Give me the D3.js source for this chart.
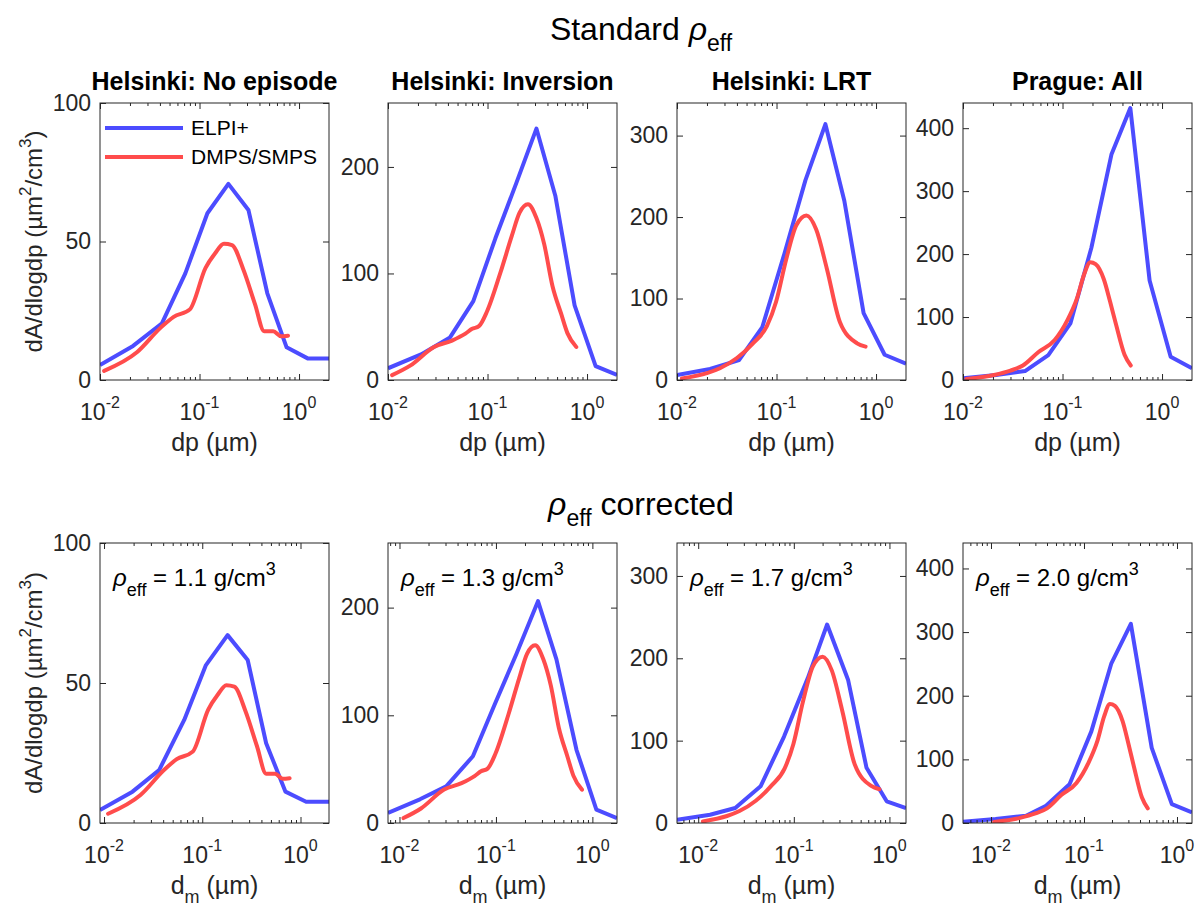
<!DOCTYPE html>
<html>
<head>
<meta charset="utf-8">
<script src="https://cdn.jsdelivr.net/npm/d3@7"></script>
<style>
  body { margin: 0; background: #fff; }
  svg { display: block; font-family: "Liberation Sans", Arial, sans-serif; }
</style>
</head>
<body>
<script>
    var w = 1200;
    var h = 911;

    // ELPI+ stage diameters, standard density (um)
    var elpiDp = [0.01, 0.0215, 0.042, 0.072, 0.12, 0.195, 0.31, 0.48, 0.75, 1.22, 2.0];
    var elpiNoEp = [5.4, 12.3, 20.5, 38.5, 60.2, 70.8, 61.4, 31.3, 11.8, 7.8, 7.8];
    var elpiInv  = [11, 24, 40, 74, 133, 185, 236, 173, 70, 13, 4.7];
    var elpiLrt  = [6.1, 13.5, 24.5, 65, 155, 245, 314, 220, 82, 31, 20];
    var elpiPrg  = [2.6, 8, 14.2, 39.5, 90, 210, 358, 432, 158, 37, 18.5];

    // ELPI+ after rho_eff correction (mobility diameter)
    var dmNoEp = [0.0091, 0.0195, 0.0364, 0.0655, 0.109, 0.181, 0.29, 0.447, 0.703, 1.14, 1.95];
    var elpiNoEpCorr = [4.6, 11.2, 18.9, 36.8, 56.4, 67.1, 58.2, 28.5, 11.2, 7.6, 7.6];
    var dmInv = [0.0076, 0.0163, 0.0305, 0.0577, 0.097, 0.163, 0.273, 0.424, 0.684, 1.1, 1.8];
    var elpiInvCorr = [9.3, 22, 34, 62, 110, 157, 206, 152, 68, 12.4, 4.6];
    var dmLrt = [0.006, 0.0133, 0.0244, 0.0449, 0.079, 0.14, 0.223, 0.369, 0.576, 0.936, 1.49];
    var elpiLrtCorr = [4, 10, 18.2, 44.5, 105, 176, 241, 174, 67, 26.3, 18.2];
    var dmPrg = [0.005, 0.0112, 0.0238, 0.0391, 0.0699, 0.12, 0.197, 0.319, 0.535, 0.88, 1.45];
    var elpiPrgCorr = [2, 6.2, 11.4, 27, 61, 144, 251, 313, 118, 29.6, 16.7];

    // DMPS/SMPS (mobility diameter, same in both rows)
    var dmpsNoEpDp = [0.011, 0.0235, 0.041, 0.055, 0.08, 0.115, 0.143, 0.176, 0.212, 0.275, 0.36, 0.447, 0.55, 0.66, 0.775];
    var dmpsNoEp   = [3.3, 10, 19, 22.8, 25.5, 40.5, 45.7, 49.2, 48.7, 40, 27.5, 17.6, 17.6, 15.8, 16];
    var dmpsInvDp = [0.011, 0.0167, 0.029, 0.044, 0.06, 0.07, 0.082, 0.099, 0.135, 0.175, 0.21, 0.255, 0.31, 0.37, 0.45, 0.55, 0.635, 0.78];
    var dmpsInv   = [4.6, 13.5, 31, 37, 43.5, 48, 50.5, 64.5, 101, 135, 157, 165, 152, 128, 88, 62, 44, 31];
    var dmpsLrtDp = [0.0112, 0.02, 0.027, 0.04, 0.058, 0.08, 0.099, 0.125, 0.158, 0.2, 0.25, 0.32, 0.434, 0.645, 0.785];
    var dmpsLrt   = [2, 8.5, 14.5, 27, 45, 66, 96, 148, 190, 202, 185, 137, 71, 45, 41];
    var dmpsPrgDp = [0.0108, 0.0205, 0.03, 0.04, 0.057, 0.083, 0.112, 0.14, 0.165, 0.19, 0.215, 0.26, 0.3, 0.345, 0.42, 0.485];
    var dmpsPrg   = [1.5, 8, 15, 23, 44, 63, 95, 130, 168, 187, 184, 160, 125, 88, 40, 23];

    var titles = ["Helsinki: No episode", "Helsinki: Inversion", "Helsinki: LRT", "Prague: All"];
    var rhoLabels = ["1.1", "1.3", "1.7", "2.0"];
    var yMax = [100, 260, 340, 440];
    var yTicks = [[0, 50, 100], [0, 100, 200], [0, 100, 200, 300], [0, 100, 200, 300, 400]];
    var xLimTop = [0.01, 2];
    var xLimBottom = [[0.0091, 1.95], [0.0076, 1.8], [0.006, 1.49], [0.005, 1.45]];
    var legendNames = ["ELPI+", "DMPS/SMPS"];

    var blue = "rgb(76,76,255)";
    var red = "rgb(255,76,76)";
    var axisColor = "#262626";

    var boxLeft = [100, 388, 677, 963];
    var boxW = 229;

    var svg = d3.select("body").append("svg")
                .attr("width", w)
                .attr("height", h);

    var topE = [elpiNoEp, elpiInv, elpiLrt, elpiPrg];
    var botX = [dmNoEp, dmInv, dmLrt, dmPrg];
    var botE = [elpiNoEpCorr, elpiInvCorr, elpiLrtCorr, elpiPrgCorr];
    var dX = [dmpsNoEpDp, dmpsInvDp, dmpsLrtDp, dmpsPrgDp];
    var dY = [dmpsNoEp, dmpsInv, dmpsLrt, dmpsPrg];

    var panels = [];
    for (var i = 0; i < 4; i++) {
        panels.push({ row: 0, col: i, y0: 103, h: 277, xlim: xLimTop,
                      ex: elpiDp, ev: topE[i], dx: dX[i], dv: dY[i] });
        panels.push({ row: 1, col: i, y0: 543, h: 280, xlim: xLimBottom[i],
                      ex: botX[i], ev: botE[i], dx: dX[i], dv: dY[i] });
    }

    function styleAxis(sel) {
        sel.select(".domain").remove();
        sel.selectAll("line").attr("stroke", axisColor);
    }

    panels.forEach(function(p, idx) {
        var x0 = boxLeft[p.col], x1 = x0 + boxW;
        var y0 = p.y0, y1 = p.y0 + p.h;
        var x = d3.scaleLog().domain(p.xlim).range([x0, x1]);
        var y = d3.scaleLinear().domain([0, yMax[p.col]]).range([y1, y0]);
        var g = svg.append("g");

        var major = [0.01, 0.1, 1].filter(v => v >= p.xlim[0] * 0.999 && v <= p.xlim[1]);
        var minor = [];
        [0.001, 0.01, 0.1, 1].forEach(function(d) {
            for (var k = 2; k <= 9; k++) {
                var v = k * d;
                if (v > p.xlim[0] && v < p.xlim[1]) minor.push(v);
            }
        });

        // clip
        var cid = "clip" + idx;
        svg.append("clipPath").attr("id", cid).append("rect")
           .attr("x", x0).attr("y", y0).attr("width", boxW).attr("height", p.h);
        var plot = g.append("g").attr("clip-path", "url(#" + cid + ")");

        var line = d3.line().x(d => x(d[0])).y(d => y(d[1]));
        var smooth = d3.line().x(d => x(d[0])).y(d => y(d[1])).curve(d3.curveMonotoneX);

        plot.append("path").datum(d3.zip(p.ex, p.ev))
            .attr("d", line).attr("fill", "none")
            .attr("stroke", blue).attr("stroke-width", 4)
            .attr("stroke-linejoin", "round");
        plot.append("path").datum(d3.zip(p.dx, p.dv))
            .attr("d", smooth).attr("fill", "none")
            .attr("stroke", red).attr("stroke-width", 4)
            .attr("stroke-linejoin", "round").attr("stroke-linecap", "round");

        // ticks, pointing inward
        g.append("g").attr("transform", "translate(0," + y1 + ")")
         .call(d3.axisBottom(x).tickValues(major).tickSize(-6).tickFormat("")).call(styleAxis);
        g.append("g").attr("transform", "translate(0," + y1 + ")")
         .call(d3.axisBottom(x).tickValues(minor).tickSize(-3).tickFormat("")).call(styleAxis);
        g.append("g").attr("transform", "translate(0," + y0 + ")")
         .call(d3.axisTop(x).tickValues(major).tickSize(-6).tickFormat("")).call(styleAxis);
        g.append("g").attr("transform", "translate(0," + y0 + ")")
         .call(d3.axisTop(x).tickValues(minor).tickSize(-3).tickFormat("")).call(styleAxis);

        var yl = g.append("g").attr("transform", "translate(" + x0 + ",0)")
         .call(d3.axisLeft(y).tickValues(yTicks[p.col]).tickSize(-6).tickPadding(9)).call(styleAxis);
        yl.selectAll("text").attr("font-size", 23).attr("fill", axisColor)
          .attr("font-family", "Liberation Sans, Arial, sans-serif");
        g.append("g").attr("transform", "translate(" + x1 + ",0)")
         .call(d3.axisRight(y).tickValues(yTicks[p.col]).tickSize(-6).tickFormat("")).call(styleAxis);

        // x tick labels as 10^n
        major.forEach(function(v) {
            var t = g.append("text").attr("x", x(v)).attr("y", y1 + 40)
                     .attr("text-anchor", "middle").attr("font-size", 23).attr("fill", axisColor);
            t.append("tspan").text("10");
            t.append("tspan").attr("dy", -12).attr("font-size", 16)
             .text(String(Math.round(Math.log10(v))));
        });

        // box
        g.append("rect").attr("x", x0).attr("y", y0).attr("width", boxW).attr("height", p.h)
         .attr("fill", "none").attr("stroke", axisColor).attr("stroke-width", 1);

        // x label
        var xl = g.append("text").attr("x", (x0 + x1) / 2).attr("y", y1 + 71)
                  .attr("text-anchor", "middle").attr("font-size", 25).attr("fill", axisColor);
        if (p.row === 0) {
            xl.text("dp (\u00b5m)");
        } else {
            xl.append("tspan").text("d");
            xl.append("tspan").attr("dy", 9).attr("font-size", 18).text("m");
            xl.append("tspan").attr("dy", -9).text(" (\u00b5m)");
        }

        if (p.row === 0) {
            g.append("text").attr("x", (x0 + x1) / 2).attr("y", y0 - 13)
             .attr("text-anchor", "middle").attr("font-size", 25).attr("font-weight", "bold")
             .attr("fill", "#000").text(titles[p.col]);
        } else {
            var a = g.append("text").attr("x", x0 + 13).attr("y", y0 + 43)
                     .attr("font-size", 24).attr("fill", "#000");
            a.append("tspan").attr("font-style", "italic").text("\u03c1");
            a.append("tspan").attr("dy", 10).attr("font-size", 18).text("eff");
            a.append("tspan").attr("dy", -10).text(" = " + rhoLabels[p.col] + " g/cm");
            a.append("tspan").attr("dy", -11).attr("font-size", 18).text("3");
        }

        if (p.col === 0) {
            var yt = g.append("text")
                      .attr("transform", "translate(42," + ((y0 + y1) / 2) + ") rotate(-90)")
                      .attr("text-anchor", "middle").attr("font-size", 24).attr("fill", axisColor);
            yt.append("tspan").text("dA/dlogdp (\u00b5m");
            yt.append("tspan").attr("dy", -11).attr("font-size", 17).text("2");
            yt.append("tspan").attr("dy", 11).text("/cm");
            yt.append("tspan").attr("dy", -11).attr("font-size", 17).text("3");
            yt.append("tspan").attr("dy", 11).text(")");
        }

        if (p.row === 0 && p.col === 0) {
            var lg = g.append("g");
            [blue, red].forEach(function(c, k) {
                var ly = 128 + k * 29;
                lg.append("line").attr("x1", x0 + 5).attr("x2", x0 + 83)
                  .attr("y1", ly).attr("y2", ly)
                  .attr("stroke", c).attr("stroke-width", 4);
                lg.append("text").attr("x", x0 + 91).attr("y", ly + 7)
                  .attr("font-size", 21).attr("fill", "#000").text(legendNames[k]);
            });
        }
    });

    // row titles
    var t1 = svg.append("text").attr("x", 641).attr("y", 40).attr("text-anchor", "middle")
                .attr("font-size", 32).attr("fill", "#000");
    t1.append("tspan").text("Standard ");
    t1.append("tspan").attr("font-style", "italic").text("\u03c1");
    t1.append("tspan").attr("dy", 11).attr("font-size", 23).text("eff");

    var t2 = svg.append("text").attr("x", 641).attr("y", 515).attr("text-anchor", "middle")
                .attr("font-size", 32).attr("fill", "#000");
    t2.append("tspan").attr("font-style", "italic").text("\u03c1");
    t2.append("tspan").attr("dy", 11).attr("font-size", 23).text("eff");
    t2.append("tspan").attr("dy", -11).text(" corrected");
</script>
</body>
</html>
